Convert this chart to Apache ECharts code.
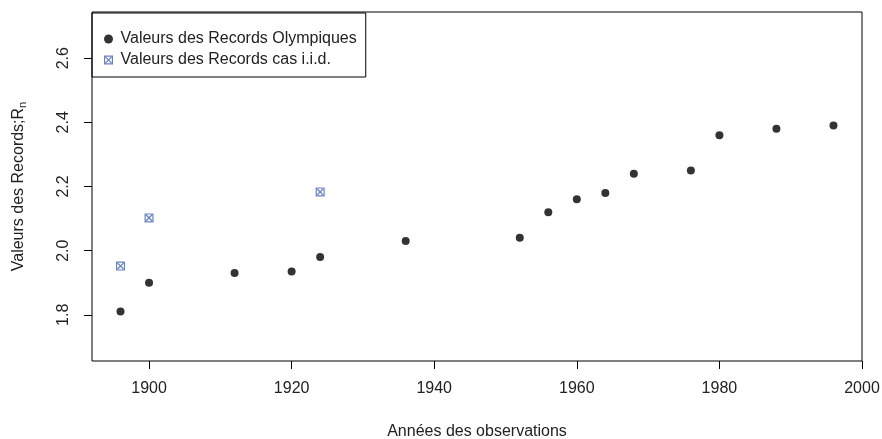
<!DOCTYPE html>
<html>
<head>
<meta charset="utf-8">
<script src="https://cdn.jsdelivr.net/npm/echarts@6/dist/echarts.min.js"></script>
<style>html,body{margin:0;padding:0;background:#fff;}#c{width:882px;height:439px;}</style>
</head>
<body>
<div id="c"></div>
<script>
const olympicYears = [1896, 1900, 1912, 1920, 1924, 1936, 1952, 1956, 1960, 1964, 1968, 1976, 1980, 1988, 1996];
const olympicValues = [1.81, 1.90, 1.93, 1.935, 1.98, 2.03, 2.04, 2.12, 2.16, 2.18, 2.24, 2.25, 2.36, 2.38, 2.39];
const iidYears = [1896, 1900, 1924];
const iidValues = [1.952, 2.102, 2.183];
const xTicks = [1900, 1920, 1940, 1960, 1980, 2000];
const yTicks = [1.8, 2.0, 2.2, 2.4, 2.6];
const seriesNames = ['Valeurs des Records Olympiques', 'Valeurs des Records cas i.i.d.'];

const FONT = 'Liberation Sans, Arial, sans-serif';
const TXT = '#222';
const BLUE = '#3f5fb5';
const boxX = 'path://M0 0H10V10H0Z M1.3 1.3V8.7H8.7V1.3Z M1.3 2.3L2.3 1.3L8.7 7.7L7.7 8.7Z M7.7 1.3L8.7 2.3L2.3 8.7L1.3 7.7Z';

const chart = echarts.init(document.getElementById('c'), null, {renderer: 'canvas'});
chart.setOption({
  animation: false,
  backgroundColor: '#fff',
  grid: {left: 92, right: 20, top: 12, bottom: 78, show: true, borderColor: '#000', borderWidth: 1,
         backgroundColor: 'transparent', containLabel: false, outerBoundsMode: 'none'},
  legend: {
    left: 92, top: 13, orient: 'vertical',
    borderColor: '#000', borderWidth: 1, borderRadius: 0,
    padding: [18, 9, 9, 12],
    itemWidth: 14, itemHeight: 9, itemGap: 5,
    textStyle: {fontFamily: FONT, fontSize: 16, color: TXT},
    data: [
      {name: seriesNames[0], icon: 'circle', itemStyle: {color: '#000'}},
      {name: seriesNames[1], icon: boxX, itemStyle: {color: BLUE}}
    ]
  },
  xAxis: {
    type: 'value', min: 1892, max: 2000,
    name: 'Années des observations', nameLocation: 'middle', nameGap: 63,
    nameTextStyle: {fontFamily: FONT, fontSize: 16, color: TXT},
    splitLine: {show: false},
    axisLine: {show: false},
    axisTick: {show: true, inside: false, length: 8, lineStyle: {color: '#000'}, customValues: xTicks},
    axisLabel: {fontFamily: FONT, fontSize: 16, color: TXT, margin: 20, customValues: xTicks, formatter: v => String(v)}
  },
  yAxis: {
    type: 'value', min: 1.656, max: 2.744,
    name: 'Valeurs des Records;R{sub|n}', nameLocation: 'middle', nameGap: 64, nameRotate: 90,
    nameTextStyle: {fontFamily: FONT, fontSize: 16, color: TXT, rich: {sub: {fontFamily: FONT, fontSize: 11, color: TXT, verticalAlign: 'bottom', padding: [8, 0, 0, 0]}}},
    splitLine: {show: false},
    axisLine: {show: false},
    axisTick: {show: true, inside: false, length: 8, lineStyle: {color: '#000'}, customValues: yTicks},
    axisLabel: {fontFamily: FONT, fontSize: 16, color: TXT, margin: 20, rotate: 90, customValues: yTicks, formatter: v => v.toFixed(1)}
  },
  series: [
    {name: seriesNames[0], type: 'scatter', symbol: 'circle', symbolSize: 8, itemStyle: {color: '#000'},
     data: olympicYears.map((y, i) => [y, olympicValues[i]])},
    {name: seriesNames[1], type: 'scatter', symbol: boxX, symbolSize: 9, itemStyle: {color: BLUE},
     data: iidYears.map((y, i) => [y, iidValues[i]])}
  ]
});
</script>
</body>
</html>
